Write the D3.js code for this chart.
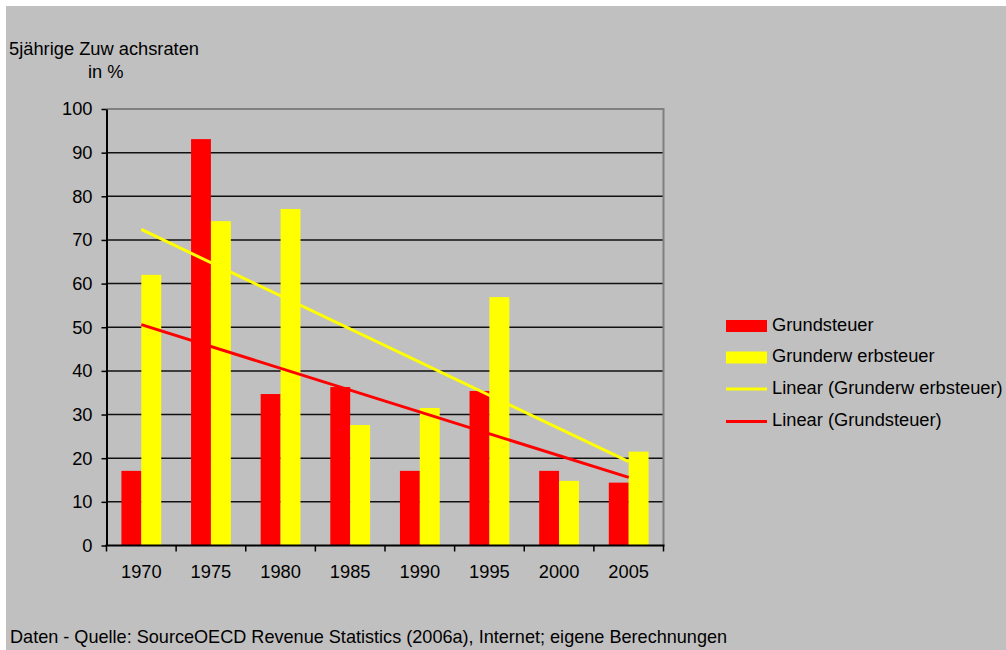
<!DOCTYPE html>
<html>
<head>
<meta charset="utf-8">
<script src="https://cdn.jsdelivr.net/npm/d3@7"></script>
<style>
  html, body { margin: 0; padding: 0; background: #ffffff; }
  svg { display: block; }
  text { font-family: "Liberation Sans", Arial, sans-serif; font-size: 18.3px; fill: #000; }
</style>
</head>
<body>
<svg id="chart" width="1006" height="650"></svg>
<script>
// ---- data ----
const years = ["1970", "1975", "1980", "1985", "1990", "1995", "2000", "2005"];
const grundsteuer = [17.1, 93.1, 34.7, 36.3, 17.1, 35.4, 17.1, 14.4];
const grunderwerbsteuer = [62.0, 74.3, 77.1, 27.6, 31.5, 56.9, 14.8, 21.5];
// linear trend endpoints (1970, 2005)
const trendGrundsteuer = [50.6, 15.6];
const trendGrunderwerbsteuer = [72.4, 19.2];
const yTicks = [0, 10, 20, 30, 40, 50, 60, 70, 80, 90, 100];
const seriesNames = ["Grundsteuer", "Grunderw erbsteuer"];
const legendLabels = ["Grundsteuer", "Grunderw erbsteuer", "Linear (Grunderw erbsteuer)", "Linear (Grundsteuer)"];
const titleLines = ["5jährige Zuw achsraten", "in %"];
const sourceText = "Daten - Quelle: SourceOECD Revenue Statistics (2006a), Internet; eigene Berechnungen";

const colors = { red: "#ff0000", yellow: "#ffff00" };
const FS = 18.3;

const svg = d3.select("#chart");

// background
svg.append("rect").attr("x", 6).attr("y", 6).attr("width", 1000).attr("height", 644).attr("fill", "#c0c0c0");

const plot = { left: 106.5, right: 663.5, top: 109, bottom: 545.5 };

const x = d3.scaleBand().domain(years).range([plot.left, plot.right]).padding(0);
const x1 = d3.scaleBand().domain(seriesNames).range([0, x.bandwidth()]).paddingInner(0).paddingOuter(0.75);
const y = d3.scaleLinear().domain([0, 100]).range([plot.bottom, plot.top]);

// gridlines
svg.append("g").selectAll("line").data(yTicks.filter(t => t > 0 && t < 100)).join("line")
  .attr("x1", plot.left).attr("x2", plot.right)
  .attr("y1", d => y(d)).attr("y2", d => y(d))
  .attr("stroke", "#111").attr("stroke-width", 1.5);

// plot border (top & right)
svg.append("path")
  .attr("d", `M${plot.left},${y(100)}H${plot.right}V${plot.bottom}`)
  .attr("fill", "none").attr("stroke", "#808080").attr("stroke-width", 2);

// bars
const rows = years.map((yr, i) => ({ yr, vals: [grundsteuer[i], grunderwerbsteuer[i]] }));
const barColors = [colors.red, colors.yellow];
const g = svg.append("g").selectAll("g").data(rows).join("g")
  .attr("transform", d => `translate(${x(d.yr)},0)`);
g.selectAll("rect").data(d => d.vals.map((v, k) => ({ v, k }))).join("rect")
  .attr("x", d => x1(seriesNames[d.k]))
  .attr("width", x1.bandwidth())
  .attr("y", d => y(d.v))
  .attr("height", d => y(0) - y(d.v))
  .attr("fill", d => barColors[d.k]);

// trend lines
const cx = yr => x(yr) + x.bandwidth() / 2;
const line = d3.line().x(d => cx(d[0])).y(d => y(d[1]));
svg.append("path")
  .attr("d", line([[years[0], trendGrunderwerbsteuer[0]], [years[years.length - 1], trendGrunderwerbsteuer[1]]]))
  .attr("stroke", colors.yellow).attr("stroke-width", 3).attr("fill", "none");
svg.append("path")
  .attr("d", line([[years[0], trendGrundsteuer[0]], [years[years.length - 1], trendGrundsteuer[1]]]))
  .attr("stroke", colors.red).attr("stroke-width", 3).attr("fill", "none");

// y axis
const yAxis = d3.axisLeft(y).tickValues(yTicks).tickSize(5).tickPadding(9).tickSizeOuter(0);
const ya = svg.append("g").attr("transform", `translate(${plot.left},0)`).call(yAxis);
ya.select(".domain").attr("stroke", "#000").attr("stroke-width", 2);
ya.selectAll(".tick line").attr("stroke", "#000").attr("stroke-width", 1.5);
ya.selectAll(".tick text").attr("font-size", FS).attr("font-family", "Liberation Sans, Arial, sans-serif").attr("fill", "#000");

// x axis (labels centred, ticks at band boundaries)
const xAxis = d3.axisBottom(x).tickSize(0).tickPadding(19.5).tickSizeOuter(0);
const xa = svg.append("g").attr("transform", `translate(0,${plot.bottom})`).call(xAxis);
xa.select(".domain").remove();
xa.selectAll(".tick text").attr("font-size", FS).attr("font-family", "Liberation Sans, Arial, sans-serif").attr("fill", "#000");
const bounds = years.map(d => x(d)).concat([plot.right]);
svg.append("line").attr("x1", plot.left - 1).attr("x2", plot.right + 1).attr("y1", plot.bottom).attr("y2", plot.bottom)
  .attr("stroke", "#000").attr("stroke-width", 2);
svg.append("g").selectAll("line").data(bounds).join("line")
  .attr("x1", d => d).attr("x2", d => d)
  .attr("y1", plot.bottom).attr("y2", plot.bottom + 6)
  .attr("stroke", "#000").attr("stroke-width", 1.5);

// title
svg.append("text").attr("x", 9).attr("y", 55).text(titleLines[0]);
svg.append("text").attr("x", 88).attr("y", 78).text(titleLines[1]);

// legend
const lg = svg.append("g");
const lx = 726, lw = 41, ltx = 772;
const baselines = [331, 362, 394, 426];
lg.append("rect").attr("x", lx).attr("y", 320).attr("width", lw).attr("height", 12).attr("fill", colors.red);
lg.append("rect").attr("x", lx).attr("y", 351.5).attr("width", lw).attr("height", 12).attr("fill", colors.yellow);
lg.append("line").attr("x1", lx).attr("x2", lx + lw).attr("y1", 389).attr("y2", 389).attr("stroke", colors.yellow).attr("stroke-width", 3);
lg.append("line").attr("x1", lx).attr("x2", lx + lw).attr("y1", 421.5).attr("y2", 421.5).attr("stroke", colors.red).attr("stroke-width", 3);
lg.selectAll("text").data(legendLabels).join("text")
  .attr("x", ltx).attr("y", (d, i) => baselines[i]).text(d => d);

// source
svg.append("text").attr("x", 10).attr("y", 643).attr("font-size", 18.1).style("font-size", "18.1px").text(sourceText);
</script>
</body>
</html>
